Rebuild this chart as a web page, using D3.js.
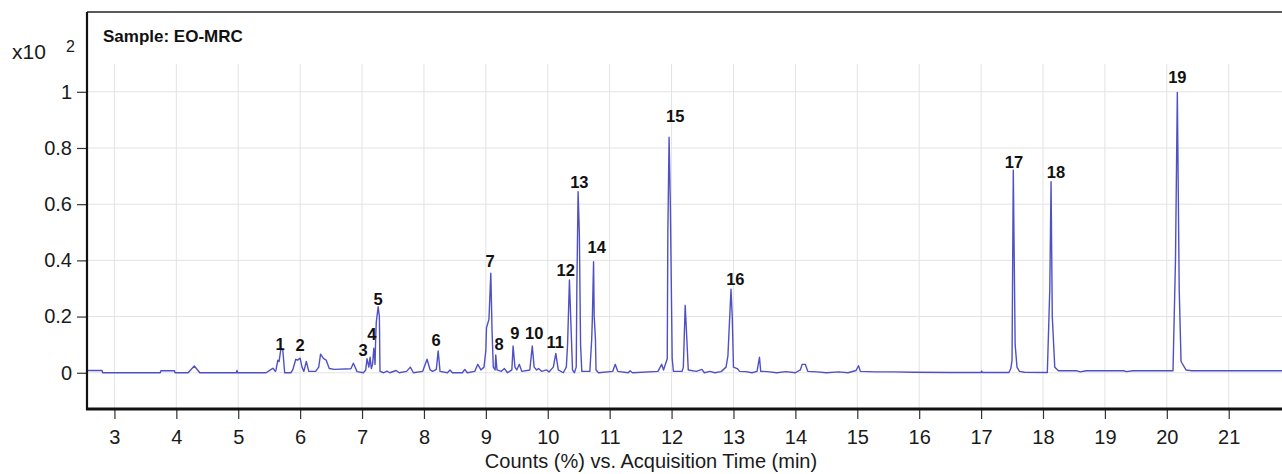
<!DOCTYPE html>
<html>
<head>
<meta charset="utf-8">
<script src="https://cdn.jsdelivr.net/npm/d3@7"></script>
<style>
  body { margin: 0; background: #fff; }
  svg { display: block; font-family: "Liberation Sans", Arial, sans-serif; }
</style>
</head>
<body>
<div id="chart"></div>
<script>
// chromatogram of sample EO-MRC, counts in units of x10^2
let sampleName = "Sample: EO-MRC";
let xTicks = [3, 4, 5, 6, 7, 8, 9, 10, 11, 12, 13, 14, 15, 16, 17, 18, 19, 20, 21];
let yTicks = [0, 0.2, 0.4, 0.6, 0.8, 1];

// [time (min), counts]
let trace = [
  [2.56, 0.008], [2.80, 0.008], [2.81, 0], [3.74, 0], [3.75, 0.007], [3.97, 0.007], [3.98, 0],
  [4.19, 0], [4.29, 0.024], [4.38, 0],
  [4.97, 0], [4.98, 0.008], [4.99, 0],
  [5.45, 0], [5.52, 0.01], [5.56, 0.016], [5.60, 0.005],
  [5.61, 0.01], [5.64, 0.045], [5.66, 0.04], [5.69, 0.087], [5.72, 0.08], [5.75, 0],
  [5.85, 0], [5.88, 0.01], [5.93, 0.048], [5.96, 0.045], [6.00, 0.052], [6.03, 0.02], [6.06, 0.005], [6.10, 0.04], [6.14, 0.005],
  [6.25, 0.005], [6.30, 0.02], [6.33, 0.066], [6.38, 0.05], [6.42, 0.045], [6.47, 0.015], [6.55, 0.012], [6.82, 0.014], [6.86, 0.034], [6.92, 0.004], [7.02, 0],
  [7.06, 0.01], [7.08, 0.05], [7.11, 0.02], [7.13, 0.055], [7.15, 0.015], [7.17, 0.03], [7.19, 0.087], [7.21, 0.03], [7.22, 0.12], [7.23, 0.18], [7.26, 0.235], [7.28, 0.2], [7.29, 0.005],
  [7.35, 0], [7.40, 0.006], [7.45, 0], [7.55, 0.008], [7.60, 0], [7.72, 0.005], [7.78, 0.02], [7.83, 0],
  [7.98, 0.005], [8.05, 0.048], [8.10, 0.01], [8.14, 0.005], [8.20, 0.012], [8.23, 0.078], [8.26, 0.005],
  [8.38, 0], [8.42, 0.01], [8.46, 0], [8.62, 0], [8.66, 0.012], [8.70, 0], [8.82, 0.005], [8.87, 0.03], [8.92, 0.01],
  [8.97, 0.02], [9.00, 0.08], [9.01, 0.16], [9.05, 0.19], [9.08, 0.354], [9.10, 0.15], [9.12, 0.02],
  [9.15, 0.01], [9.16, 0.063], [9.18, 0.01], [9.25, 0.005], [9.30, 0.015], [9.35, 0],
  [9.42, 0.01], [9.44, 0.095], [9.47, 0.02], [9.50, 0.01], [9.54, 0.03], [9.58, 0.005],
  [9.71, 0.01], [9.75, 0.095], [9.78, 0.02], [9.82, 0.01], [9.85, 0.015], [9.90, 0.005], [9.98, 0.01], [10.02, 0.003],
  [10.09, 0.02], [10.13, 0.069], [10.17, 0.01], [10.25, 0],
  [10.30, 0.02], [10.32, 0.1], [10.35, 0.33], [10.37, 0.2], [10.40, 0.01], [10.43, 0],
  [10.46, 0.02], [10.47, 0.3], [10.49, 0.644], [10.51, 0.5], [10.53, 0.1], [10.55, 0.005],
  [10.68, 0.005], [10.71, 0.12], [10.72, 0.19], [10.74, 0.395], [10.75, 0.2], [10.77, 0.12], [10.78, 0.01], [10.82, 0],
  [11.05, 0.005], [11.09, 0.03], [11.13, 0.005], [11.30, 0], [11.33, 0.007], [11.37, 0],
  [11.78, 0.005], [11.84, 0.03], [11.87, 0.01],
  [11.93, 0.05], [11.94, 0.5], [11.96, 0.838], [11.98, 0.6], [12.01, 0.05], [12.03, 0.005],
  [12.17, 0.005], [12.19, 0.02], [12.22, 0.24], [12.24, 0.15], [12.27, 0.01],
  [12.40, 0.005], [12.49, 0.012], [12.53, 0], [12.62, 0.005], [12.70, 0], [12.80, 0.004],
  [12.88, 0.02], [12.91, 0.06], [12.96, 0.297], [12.98, 0.2], [13.00, 0.02], [13.06, 0.015], [13.10, 0.005],
  [13.20, 0.004], [13.30, 0], [13.38, 0.005], [13.42, 0.055], [13.44, 0.005],
  [13.55, 0.004], [13.70, 0], [13.85, 0.004], [14.00, 0], [14.08, 0.01], [14.11, 0.03], [14.16, 0.03], [14.20, 0.005],
  [14.35, 0.003], [14.50, 0], [14.70, 0.003], [14.85, 0], [14.98, 0.008], [15.02, 0.025], [15.05, 0.005],
  [15.30, 0.003], [15.60, 0.003], [15.90, 0.002], [16.50, 0.001], [17.00, 0.001], [17.01, 0.006], [17.02, 0.001],
  [17.45, 0.001], [17.48, 0.015], [17.50, 0.045], [17.52, 0.721], [17.55, 0.1], [17.58, 0.02], [17.62, 0.005], [17.70, 0.002],
  [18.07, 0.001], [18.11, 0.3], [18.13, 0.68], [18.15, 0.2], [18.19, 0.02], [18.25, 0.007],
  [18.55, 0.007], [18.60, 0.003], [18.70, 0.007], [19.30, 0.007], [19.35, 0.004], [19.45, 0.007],
  [20.10, 0.007], [20.14, 0.4], [20.17, 0.998], [20.20, 0.3], [20.23, 0.04], [20.31, 0.01], [20.40, 0.007], [22.0, 0.007]
];

// numbered peak labels: id, time, count at label baseline
let peakIds = [1, 2, 3, 4, 5, 6, 7, 8, 9, 10, 11, 12, 13, 14, 15, 16, 17, 18, 19];
let peakTimes = [5.675, 6.0, 7.016, 7.157, 7.258, 8.195, 9.068, 9.213, 9.47, 9.78, 10.12, 10.29, 10.51, 10.79, 12.06, 13.03, 17.53, 18.21, 20.17];
let peakLabelCounts = [0.081, 0.077, 0.059, 0.116, 0.241, 0.095, 0.376, 0.081, 0.12, 0.12, 0.088, 0.344, 0.657, 0.426, 0.892, 0.312, 0.728, 0.693, 1.031];

let width = 1282,
    height = 474;
let plot = { left: 87, right: 1290, top: 12, bottom: 409 };

let svg = d3.select("#chart")
    .append("svg")
    .attr("width", width)
    .attr("height", height);

let x = d3.scaleLinear()
    .domain([2.557, 21.99])
    .range([plot.left, plot.right]);

let y = d3.scaleLinear()
    .domain([-0.129, 1.284])
    .range([plot.bottom, plot.top]);

svg.append("clipPath")
    .attr("id", "plotClip")
    .append("rect")
    .attr("x", plot.left)
    .attr("y", plot.top)
    .attr("width", plot.right - plot.left)
    .attr("height", plot.bottom - plot.top);

// grid
let grid = svg.append("g");
grid.selectAll("line.v")
    .data(xTicks)
    .enter()
    .append("line")
    .attr("x1", d => x(d))
    .attr("x2", d => x(d))
    .attr("y1", y(1.1))
    .attr("y2", plot.bottom)
    .attr("stroke", "#e3e3e3")
    .attr("stroke-width", 1);
grid.selectAll("line.h")
    .data(yTicks)
    .enter()
    .append("line")
    .attr("x1", plot.left)
    .attr("x2", plot.right)
    .attr("y1", d => y(d))
    .attr("y2", d => y(d))
    .attr("stroke", "#e3e3e3")
    .attr("stroke-width", 1);

// trace
let line = d3.line()
    .x(d => x(d[0]))
    .y(d => y(d[1]));

svg.append("path")
    .datum(trace)
    .attr("clip-path", "url(#plotClip)")
    .attr("fill", "none")
    .attr("stroke", "#5050c6")
    .attr("stroke-width", 1.4)
    .attr("stroke-linejoin", "round")
    .attr("d", line);

// peak numbers
svg.append("g")
    .selectAll("text")
    .data(peakIds)
    .enter()
    .append("text")
    .attr("x", (d, i) => x(peakTimes[i]))
    .attr("y", (d, i) => y(peakLabelCounts[i]))
    .attr("text-anchor", "middle")
    .style("font-size", "16.5px")
    .style("font-weight", "bold")
    .style("fill", "#111")
    .text(d => d);

// axes
let yAxis = svg.append("g")
    .attr("transform", `translate(${plot.left}, 0)`)
    .call(d3.axisLeft(y).tickValues(yTicks).tickSize(10).tickPadding(5)
        .tickFormat(d => String(+d.toFixed(1))));
let xAxis = svg.append("g")
    .attr("transform", `translate(0, ${plot.bottom})`)
    .call(d3.axisBottom(x).tickValues(xTicks).tickSize(10).tickPadding(11));

[yAxis, xAxis].forEach(function(a) {
    a.select(".domain").remove();
    a.selectAll(".tick line").attr("stroke", "#333").attr("stroke-width", 1.2);
    a.selectAll(".tick text")
        .style("font-size", "20px")
        .style("font-family", "'Liberation Sans', Arial, sans-serif")
        .style("fill", "#1a1a1a");
});

// frame
svg.append("line")
    .attr("x1", plot.left).attr("x2", plot.right)
    .attr("y1", plot.top).attr("y2", plot.top)
    .attr("stroke", "#222").attr("stroke-width", 1.5);
svg.append("line")
    .attr("x1", plot.left).attr("x2", plot.left)
    .attr("y1", plot.top).attr("y2", plot.bottom + 1)
    .attr("stroke", "#111").attr("stroke-width", 2.2);
svg.append("line")
    .attr("x1", plot.left - 1).attr("x2", plot.right)
    .attr("y1", plot.bottom).attr("y2", plot.bottom)
    .attr("stroke", "#111").attr("stroke-width", 3);

// sample title
svg.append("text")
    .attr("x", 103)
    .attr("y", 42)
    .style("font-size", "17px")
    .style("font-weight", "bold")
    .style("fill", "#111")
    .text(sampleName);

// scale factor
svg.append("text")
    .attr("x", 12)
    .attr("y", 59)
    .style("font-size", "21px")
    .style("fill", "#1a1a1a")
    .text("x10");
svg.append("text")
    .attr("x", 66)
    .attr("y", 52)
    .style("font-size", "16px")
    .style("fill", "#1a1a1a")
    .text("2");

// x-axis title
svg.append("text")
    .attr("x", 651)
    .attr("y", 468)
    .attr("text-anchor", "middle")
    .style("font-size", "20px")
    .style("fill", "#1a1a1a")
    .text("Counts (%) vs. Acquisition Time (min)");
</script>
</body>
</html>
